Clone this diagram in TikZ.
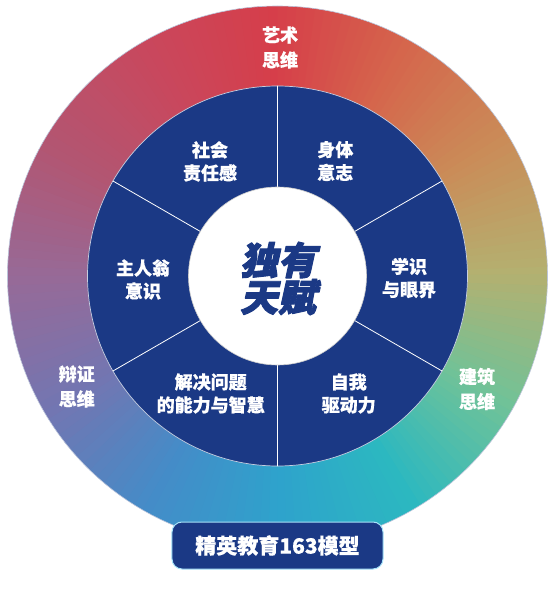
\documentclass[tikz,border=0pt]{standalone}
\usepackage{fontspec}
\newfontfamily\cjk{Noto Sans CJK SC}[BoldFeatures={FakeBold=0.6}]
\newfontfamily\cjkslant{Noto Sans CJK SC}[FakeSlant=0.22, BoldFeatures={FakeSlant=0.22, FakeBold=2.5}]

\definecolor{modelblue}{RGB}{27,57,133}
\definecolor{ring0}{RGB}{180,176,112}
\definecolor{ring1}{RGB}{202,140,88}
\definecolor{ring2}{RGB}{213,102,76}
\definecolor{ring3}{RGB}{214,62,74}
\definecolor{ring4}{RGB}{200,72,94}
\definecolor{ring5}{RGB}{178,86,114}
\definecolor{ring6}{RGB}{150,106,152}
\definecolor{ring7}{RGB}{114,118,178}
\definecolor{ring8}{RGB}{68,140,200}
\definecolor{ring9}{RGB}{46,163,204}
\definecolor{ring10}{RGB}{44,184,192}
\definecolor{ring11}{RGB}{112,194,152}

\begin{document}
\begin{tikzpicture}[x=1pt, y=1pt, line cap=round, line join=round,
    every node/.style={text=white, align=center},
    sectorlabel/.style={font=\cjk\bfseries\fontsize{18}{23}\selectfont},
    ringlabel/.style={font=\cjk\bfseries\fontsize{18}{25}\selectfont}]
    \def\rout{270}
    \def\rin{190}
    \def\rcore{89}
    \useasboundingbox (-277.5,-313) rectangle (277.5,276);

    % colour ring, built from thin wedges
    \foreach \seg [evaluate=\seg as \nxt using {int(mod(\seg+1,12))}] in {0,...,11} {
        \foreach \i in {0,...,14} {
            \pgfmathtruncatemacro\p{100-\i*100/15}
            \fill[ring\seg!\p!ring\nxt] (0,0) -- (\seg*30+\i*2:\rout)
                arc[start angle=\seg*30+\i*2, delta angle=2.4, radius=\rout] -- cycle;
        }
    }
    \draw[white!70!modelblue, line width=0.6] (0,0) circle[radius=\rout];

    \fill[modelblue] (0,0) circle[radius=\rin];
    \draw[white!75!modelblue, line width=0.7] (0,0) circle[radius=\rin];
    \foreach \a in {30,90,...,330} {
        \draw[white, line width=0.8] (\a:\rcore) -- (\a:\rin);
    }
    \fill[white] (0,0) circle[radius=\rcore];
    \draw[black!20, line width=0.6] (0,0) circle[radius=\rcore];

    \node[font=\cjkslant\bfseries\fontsize{38}{37}\selectfont, text=modelblue] (core) at (0.5,-2.5) {独有\\天赋};

    \node[sectorlabel] (shehui) at (-67.5,114.5) {社会\\责任感};
    \node[sectorlabel] (shenti) at (57.8,115) {身体\\意志};
    \node[sectorlabel] (xueshi) at (131.5,-2) {学识\\与眼界};
    \node[sectorlabel] (zhuren) at (-134.5,-3.5) {主人翁\\意识};
    \node[sectorlabel] (jiejue) at (-66.8,-117.5) {解决问题\\的能力与智慧};
    \node[sectorlabel] (ziwo) at (71.2,-117.5) {自我\\驱动力};

    \node[ringlabel] (yishu) at (2.5,228.5) {艺术\\思维};
    \node[ringlabel] (bianzheng) at (-200.8,-110.5) {辩证\\思维};
    \node[ringlabel] (jianzhu) at (199.5,-113) {建筑\\思维};

    \node[draw=white!65!cyan, fill=modelblue, line width=1, rounded corners=10,
        minimum width=211, minimum height=47,
        font=\cjk\bfseries\fontsize{21}{24}\selectfont] (model) at (0,-269.5) {精英教育163模型};
\end{tikzpicture}
\end{document}
